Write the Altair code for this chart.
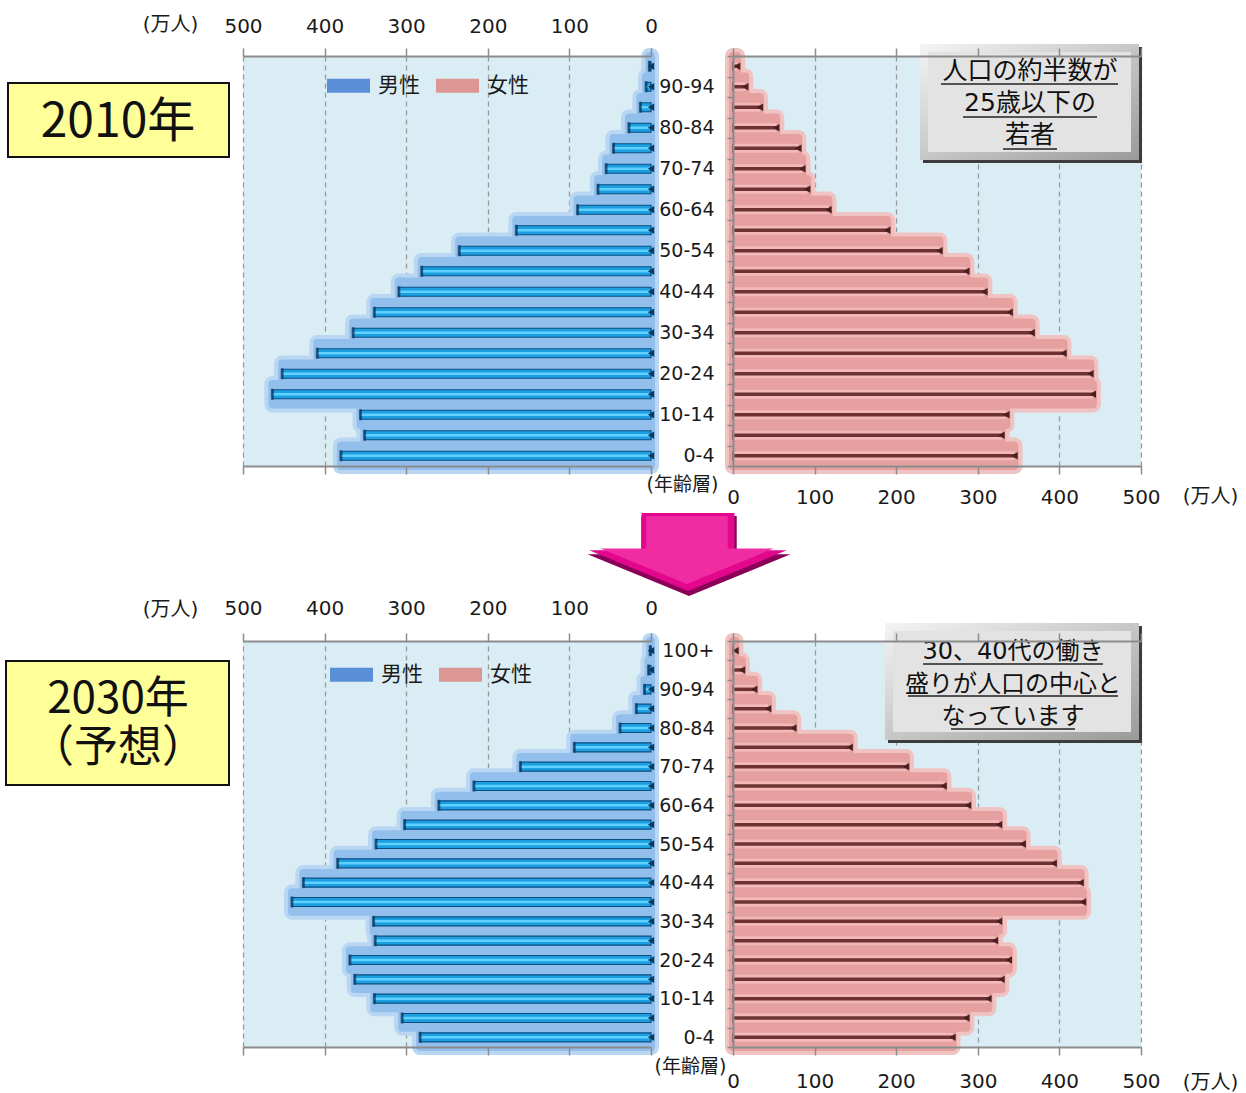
import altair as alt
import pandas as pd

# ---------------- data ----------------
AGES_2010 = ["0-4", "5-9", "10-14", "15-19", "20-24", "25-29", "30-34", "35-39",
             "40-44", "45-49", "50-54", "55-59", "60-64", "65-69", "70-74",
             "75-79", "80-84", "85-89", "90-94", "95-99"]
AGES_2030 = AGES_2010 + ["100+"]

MALE_2010 = [380, 351, 356, 464, 452, 409, 365, 339, 309, 281, 235, 165, 90, 65, 55, 46, 27, 13, 6, 2]
FEMALE_2010 = [345, 329, 335, 441, 438, 405, 366, 339, 308, 286, 253, 189, 117, 91, 85, 80, 53, 33, 15, 5]
MALE_2030 = [283, 305, 339, 363, 369, 338, 340, 440, 426, 384, 337, 302, 260, 217, 160, 94, 38, 18, 8, 3, 1]
FEMALE_2030 = [269, 286, 313, 329, 338, 321, 326, 429, 426, 393, 355, 326, 288, 258, 212, 143, 74, 43, 26, 11, 3]

TICKS = [0, 100, 200, 300, 400, 500]
SEXES = ["男性", "女性"]
SEX_COLORS = ["#5a8ed6", "#dc9694"]
YEAR_LABELS = [["2010年"], ["2030年", "（予想）"]]
NOTES = [["人口の約半数が", "25歳以下の", "若者"],
         ["30、40代の働き", "盛りが人口の中心と", "なっています"]]
UNIT = "(万人)"
AGE_TITLE = "(年齢層)"

# ---------------- styles ----------------
FONT_NUM = "DejaVu Sans, Noto Sans CJK JP"
FONT_JP = "Noto Sans CJK JP"
TXT = "#1a1a1a"
AX_GRAY = "#8c8c8c"
BG = "#daedf4"
M_GLOW_OUT, M_GLOW = "#b9d6f3", "#93bfec"
F_GLOW_OUT, F_GLOW = "#f0c3c3", "#e7a0a0"
ARROW = "M-0.47,-0.394L0.47,-0.394L0.47,-0.017L1,-0.017L0,0.394L-1,-0.017L-0.47,-0.017Z"
SWATCH = "M-1,-0.33L1,-0.33L1,0.33L-1,0.33Z"

COL0_W = 161
PLOT_W = 408

ROWS = [
    dict(ages=AGES_2010, male=MALE_2010, female=FEMALE_2010, h=410,
         m_pad=12, m_tx=-73, m_ty=-32, f_pad=13, f_tx=477, f_ty=30,
         a_tx=-51, a_ty=428, leg_x=84, leg_y=8,
         year=YEAR_LABELS[0], yfs=48, ybox=(8, 229, 27, 101), ytx=118, ytys=[67],
         note=NOTES[0], nfs=25, nbox=(187, 407, -12, 105), ncx=297,
         nys=[15, 47, 79],
         ulines=[(208, 385, 28), (230, 364, 61), (270, 324, 93)],
         arrow=True),
    dict(ages=AGES_2030, male=MALE_2030, female=FEMALE_2030, h=406,
         m_pad=15, m_tx=-73, m_ty=-32, f_pad=16, f_tx=477, f_ty=35,
         a_tx=-43, a_ty=425, leg_x=87, leg_y=12,
         year=YEAR_LABELS[1], yfs=44, ybox=(6, 229, 20, 144), ytx=118, ytys=[59, 108],
         note=NOTES[1], nfs=24, nbox=(152, 407, -18, 100), ncx=280,
         nys=[11, 44, 76],
         ulines=[(190, 370, 23), (175, 385, 55), (218, 342, 88)],
         arrow=False),
]


def lab_axis(orient, pad, tx, ty):
    return alt.Axis(orient=orient, values=TICKS, grid=False, zindex=1, labelFlush=False,
                    labelFont=FONT_NUM, labelFontSize=20, labelColor=TXT,
                    labelPadding=pad, tickSize=8, tickColor=AX_GRAY, tickWidth=1.5,
                    domainColor=AX_GRAY, domainWidth=2,
                    title=UNIT, titleFont=FONT_NUM, titleFontSize=20,
                    titleFontWeight="normal", titleColor=TXT, titleX=tx, titleY=ty,
                    titleAngle=0, titleAlign="center", titleBaseline="middle")


def plain_axis(orient):
    return alt.Axis(orient=orient, values=TICKS, grid=False, labels=False, zindex=1,
                    tickSize=8, tickColor=AX_GRAY, tickWidth=1.5,
                    domainColor=AX_GRAY, domainWidth=2)


def grid_axis(orient):
    return alt.Axis(orient=orient, values=TICKS, grid=True, gridColor="#9a9a9a",
                    gridDash=[5, 4], gridWidth=1.3, labels=False, ticks=False,
                    domain=False, zindex=0)


def one_row_data():
    return alt.Chart(pd.DataFrame({"k": [0]}))


def year_chart(r):
    d = one_row_data()
    x1, x2, y1, y2 = r["ybox"]
    layers = [d.mark_rect(fill="#ffff99", stroke="#111111", strokeWidth=2).encode(
        x=alt.value(x1), x2=alt.value(x2), y=alt.value(y1), y2=alt.value(y2))]
    for line, yy in zip(r["year"], r["ytys"]):
        layers.append(d.mark_text(font=FONT_JP, fontSize=r["yfs"], align="center",
                                  baseline="middle", color="#111111").encode(
            x=alt.value(r["ytx"]), y=alt.value(yy), text=alt.value(line)))
    return alt.layer(*layers).properties(width=COL0_W, height=r["h"])


def male_chart(r):
    ages = r["ages"]
    n = len(ages)
    df = pd.DataFrame({"age": ages, "v": r["male"], "zero": [0] * n, "sex": [SEXES[0]] * n})
    order = ages[::-1]
    y = alt.Y("age:N", scale=alt.Scale(domain=order, paddingInner=0, paddingOuter=0),
              sort=order, axis=None, title=None)
    xs = alt.Scale(domain=[0, 500], reverse=True, nice=False)
    base = alt.Chart(df)
    outer = base.mark_bar(color=M_GLOW_OUT, stroke=M_GLOW_OUT, strokeWidth=16,
                          strokeJoin="round").encode(
        x=alt.X("v:Q", scale=xs, axis=lab_axis("top", r["m_pad"], r["m_tx"], r["m_ty"])), y=y)
    core = base.mark_bar(color=M_GLOW, stroke=M_GLOW, strokeWidth=8,
                         strokeJoin="round").encode(
        x=alt.X("v:Q", scale=xs, axis=plain_axis("bottom"), title=None), y=y)
    thin = base.mark_bar(size=9, color="#1c9fe0", stroke="#0b4f82", strokeWidth=1.2).encode(
        x=alt.X("v:Q", scale=xs, axis=grid_axis("bottom"), title=None), y=y)
    hi = base.mark_bar(size=2.5, color="#5fd0ff").encode(
        x=alt.X("v:Q", scale=xs, axis=None), y=y)
    endcap = base.mark_tick(orient="vertical", size=11, thickness=3, color="#0a3a62").encode(
        x=alt.X("v:Q", scale=xs, axis=None), y=y)
    zerocap = base.mark_point(shape="triangle-left", filled=True, size=55, color="#0a3a62",
                              opacity=1).encode(
        x=alt.X("zero:Q", scale=xs, axis=None), y=y)
    leg = base.mark_bar(opacity=0).encode(
        x=alt.X("v:Q", scale=xs, axis=None), y=y,
        color=alt.Color("sex:N", scale=alt.Scale(domain=SEXES, range=SEX_COLORS),
                        legend=alt.Legend(orient="none", legendX=r["leg_x"], legendY=r["leg_y"],
                                          direction="horizontal", title=None,
                                          symbolType=SWATCH, symbolSize=1849,
                                          symbolStrokeWidth=0, symbolOpacity=1,
                                          labelFont=FONT_JP, labelFontSize=21,
                                          labelColor=TXT, labelOffset=8,
                                          columnPadding=16, padding=0)))
    layers = [outer, core, thin, hi, endcap, zerocap, leg]
    if r["arrow"]:
        d = one_row_data()
        shadow = d.mark_point(shape=ARROW, size=41209, filled=True, color="#8a0059",
                              opacity=1, strokeWidth=0).encode(
            x=alt.value(446), y=alt.value(500))
        face = d.mark_point(shape=ARROW, size=39000, filled=True, color="#e3078d",
                            opacity=1, strokeWidth=0).encode(
            x=alt.value(445), y=alt.value(496))
        hl = d.mark_point(shape=ARROW, size=30000, filled=True, color="#f02ca3",
                          opacity=1, strokeWidth=0).encode(
            x=alt.value(444), y=alt.value(494))
        layers += [shadow, face, hl]
    return alt.layer(*layers).resolve_axis(x="independent").properties(
        width=PLOT_W, height=r["h"],
        view=alt.ViewBackground(fill=BG, stroke="transparent", strokeWidth=0))


def female_chart(r):
    ages = r["ages"]
    n = len(ages)
    df = pd.DataFrame({"age": ages, "v": r["female"], "zero": [0] * n})
    order = ages[::-1]
    shown = ages[::2]
    shown_js = "[" + ",".join("'" + a + "'" for a in shown) + "]"
    yaxis = alt.Axis(orient="left", tickBand="extent", zindex=1,
                     labelExpr="indexof(" + shown_js + ", datum.value) >= 0 ? datum.value : ''",
                     labelFont=FONT_NUM, labelFontSize=19, labelColor=TXT,
                     labelAlign="right", labelBaseline="middle", labelPadding=13,
                     tickSize=6, tickColor=AX_GRAY, tickWidth=1.5,
                     domainColor=AX_GRAY, domainWidth=2, grid=False,
                     title=AGE_TITLE, titleFont=FONT_NUM, titleFontSize=19,
                     titleFontWeight="normal", titleColor=TXT, titleAngle=0,
                     titleX=r["a_tx"], titleY=r["a_ty"], titleAlign="center",
                     titleBaseline="middle")
    y = alt.Y("age:N", scale=alt.Scale(domain=order, paddingInner=0, paddingOuter=0),
              sort=order, axis=yaxis)
    xs = alt.Scale(domain=[0, 500], nice=False)
    base = alt.Chart(df)
    outer = base.mark_bar(color=F_GLOW_OUT, stroke=F_GLOW_OUT, strokeWidth=16,
                          strokeJoin="round").encode(
        x=alt.X("v:Q", scale=xs, axis=lab_axis("bottom", r["f_pad"], r["f_tx"], r["f_ty"])), y=y)
    core = base.mark_bar(color=F_GLOW, stroke=F_GLOW, strokeWidth=8,
                         strokeJoin="round").encode(
        x=alt.X("v:Q", scale=xs, axis=plain_axis("top"), title=None), y=y)
    light = base.mark_bar(size=9, color="#f3b9b9").encode(
        x=alt.X("v:Q", scale=xs, axis=grid_axis("top"), title=None), y=y)
    dark = base.mark_bar(size=3.5, color="#6e3232").encode(
        x=alt.X("v:Q", scale=xs, axis=None), y=y)
    zerocap = base.mark_tick(orient="vertical", size=9, thickness=2, color="#6e3232").encode(
        x=alt.X("zero:Q", scale=xs, axis=None), y=y)
    endcap = base.mark_point(shape="triangle-left", filled=True, size=55, color="#4a1f1f",
                             opacity=1).encode(
        x=alt.X("v:Q", scale=xs, axis=None), y=y)

    d = one_row_data()
    bx1, bx2, by1, by2 = r["nbox"]
    shadow = d.mark_rect(fill="#3c3c3c").encode(
        x=alt.value(bx1 + 3), x2=alt.value(bx2 + 2), y=alt.value(by1 + 3), y2=alt.value(by2 + 2))
    bevel = d.mark_rect(fill=alt.Gradient(gradient="linear", x1=0, y1=0, x2=1, y2=1,
                                          stops=[alt.GradientStop(color="#f4f4f4", offset=0),
                                                 alt.GradientStop(color="#9a9a9a", offset=1)])).encode(
        x=alt.value(bx1), x2=alt.value(bx2 - 1), y=alt.value(by1), y2=alt.value(by2 - 1))
    face = d.mark_rect(fill="#e3e3e3").encode(
        x=alt.value(bx1 + 8), x2=alt.value(bx2 - 9), y=alt.value(by1 + 8), y2=alt.value(by2 - 9))
    layers = [outer, core, light, dark, zerocap, endcap, shadow, bevel, face]
    for line, yy in zip(r["note"], r["nys"]):
        layers.append(d.mark_text(font=FONT_NUM, fontSize=r["nfs"], align="center",
                                  baseline="middle", color="#111111").encode(
            x=alt.value(r["ncx"]), y=alt.value(yy), text=alt.value(line)))
    for ux1, ux2, uy in r["ulines"]:
        layers.append(d.mark_rule(color="#222222", strokeWidth=1.5).encode(
            x=alt.value(ux1), x2=alt.value(ux2), y=alt.value(uy)))
    return alt.layer(*layers).resolve_axis(x="independent").properties(
        width=PLOT_W, height=r["h"],
        view=alt.ViewBackground(fill=BG, stroke="transparent", strokeWidth=0))


cells = []
for r in ROWS:
    cells += [year_chart(r), male_chart(r), female_chart(r)]

chart = alt.concat(*cells, columns=3, spacing={"row": 175, "column": 82},
                   bounds="flush", align="each").resolve_scale(color="independent").configure(
    padding={"left": 0, "top": 14, "right": 0, "bottom": 0}, background="white"
).configure_view(strokeWidth=0)

chart.save("out.html", embed_options={"renderer": "svg", "actions": False})
